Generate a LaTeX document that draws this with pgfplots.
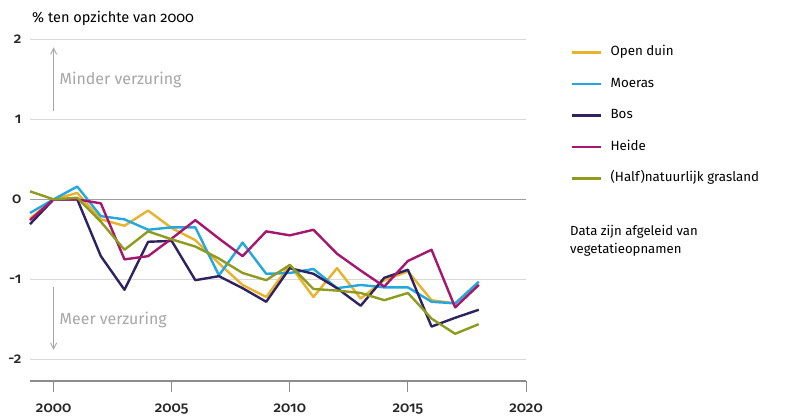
\documentclass[border=0pt]{standalone}
\usepackage{pgfplots}
\pgfplotsset{compat=1.18}
\usepackage{fontspec}
\setmainfont{Fira Sans}[Numbers=OldStyle]
\newfontfamily\tickfont{Fira Sans Medium}[Numbers=OldStyle]
\usetikzlibrary{arrows.meta}
\definecolor{cduin}{HTML}{E9B22C}
\definecolor{cmoeras}{HTML}{22A7DF}
\definecolor{cbos}{HTML}{2E2360}
\definecolor{cheide}{HTML}{A5166E}
\definecolor{cgras}{HTML}{8E9B20}
\definecolor{annot}{HTML}{A6A6A6}
\begin{document}
\begin{tikzpicture}[x=1bp,y=1bp]
\useasboundingbox (0,0) rectangle (792,419);
\begin{axis}[
  at={(30bp,38bp)}, anchor=south west,
  scale only axis, width=496bp, height=341.7bp,
  xmin=1999, xmax=2020, ymin=-2.27, ymax=2,
  axis line style={draw=none},
  xtick={2000,2005,2010,2015,2020},
  ytick={-2,-1,1,2},
  extra y ticks={0},
  extra y tick style={grid style={color=black!38, line width=1.4bp}},
  xtick pos=lower, ytick pos=left,
  xtick align=outside, ytick align=inside,
  major tick length=11bp,
  xtick style={draw=black!45, line width=1bp},
  ytick style={draw=none},
  ymajorgrids, grid style={color=black!15, line width=1.2bp},
  /pgf/number format/assume math mode=true,
  /pgf/number format/1000 sep={},
  xticklabel style={font=\tickfont\fontsize{15}{17}\selectfont, yshift=-8bp},
  yticklabel style={font=\tickfont\fontsize{15}{17}\selectfont, xshift=-5bp},
  tick label style={text=black!85},
  legend cell align=left,
  legend style={draw=none, fill=none, at={(1.0847,0.985)}, anchor=north west,
    font=\fontsize{13.4}{15}\selectfont, row sep=19.5bp,
    nodes={inner xsep=8bp, inner ysep=0pt, text height=9bp, text depth=3bp}},
  legend image code/.code={\draw[#1] (0bp,0bp) -- (29bp,0bp);},
  every axis plot/.append style={line width=2.4bp, line join=round},
  clip=false,
]
\draw[black!45, line width=1.3bp] (axis cs:1999,-2.27) -- (axis cs:2020,-2.27);
\addplot[cduin] coordinates {(1999,-0.24)(2000,0)(2001,0.08)(2002,-0.25)(2003,-0.33)(2004,-0.14)(2005,-0.36)(2006,-0.51)(2007,-0.80)(2008,-1.07)(2009,-1.22)(2010,-0.82)(2011,-1.22)(2012,-0.86)(2013,-1.24)(2014,-1.01)(2015,-0.90)(2016,-1.26)(2017,-1.30)(2018,-1.07)};
\addlegendentry{Open duin}
\addplot[cmoeras] coordinates {(1999,-0.17)(2000,0)(2001,0.16)(2002,-0.21)(2003,-0.25)(2004,-0.38)(2005,-0.35)(2006,-0.35)(2007,-0.95)(2008,-0.54)(2009,-0.93)(2010,-0.92)(2011,-0.87)(2012,-1.11)(2013,-1.07)(2014,-1.10)(2015,-1.10)(2016,-1.28)(2017,-1.30)(2018,-1.03)};
\addlegendentry{Moeras}
\addplot[cbos] coordinates {(1999,-0.31)(2000,0)(2001,0)(2002,-0.71)(2003,-1.13)(2004,-0.53)(2005,-0.52)(2006,-1.01)(2007,-0.96)(2008,-1.11)(2009,-1.28)(2010,-0.86)(2011,-0.93)(2012,-1.11)(2013,-1.33)(2014,-0.98)(2015,-0.88)(2016,-1.59)(2017,-1.48)(2018,-1.38)};
\addlegendentry{Bos}
\addplot[cheide] coordinates {(1999,-0.26)(2000,0)(2001,0)(2002,-0.05)(2003,-0.75)(2004,-0.71)(2005,-0.49)(2006,-0.26)(2007,-0.49)(2008,-0.71)(2009,-0.40)(2010,-0.45)(2011,-0.38)(2012,-0.68)(2013,-0.89)(2014,-1.09)(2015,-0.77)(2016,-0.63)(2017,-1.35)(2018,-1.07)};
\addlegendentry{Heide}
\addplot[cgras] coordinates {(1999,0.10)(2000,0)(2001,0.02)(2002,-0.28)(2003,-0.63)(2004,-0.40)(2005,-0.50)(2006,-0.59)(2007,-0.74)(2008,-0.92)(2009,-1.01)(2010,-0.82)(2011,-1.12)(2012,-1.14)(2013,-1.17)(2014,-1.26)(2015,-1.17)(2016,-1.49)(2017,-1.68)(2018,-1.56)};
\addlegendentry{(Half)natuurlijk grasland}
\draw[annot, line width=0.9bp, -{Straight Barb[length=6bp,width=6bp]}] (axis cs:2000,1.10) -- (axis cs:2000,1.90);
\draw[annot, line width=0.9bp, -{Straight Barb[length=6bp,width=6bp]}] (axis cs:2000,-1.10) -- (axis cs:2000,-1.88);
\node[anchor=west, text=annot, font=\fontsize{16}{18}\selectfont, inner sep=0pt] at (axis cs:2000.25,1.49) {Minder verzuring};
\node[anchor=west, text=annot, font=\fontsize{16}{18}\selectfont, inner sep=0pt] at (axis cs:2000.25,-1.51) {Meer verzuring};
\node[anchor=west, inner sep=0pt, font=\fontsize{14.6}{16}\selectfont] at (rel axis cs:0.004,1.0623) {\% ten opzichte van 2000};
\node[anchor=west, inner sep=0pt, align=left, font=\fontsize{13.2}{18.3}\selectfont] at (rel axis cs:1.0887,0.4097) {Data zijn afgeleid van\\vegetatieopnamen};
\end{axis}
\end{tikzpicture}
\end{document}
